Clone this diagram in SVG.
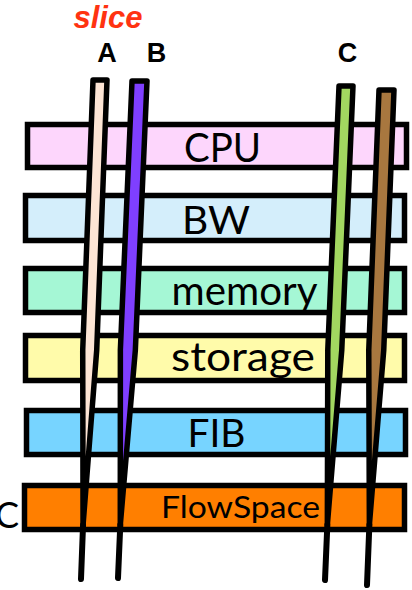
<svg xmlns="http://www.w3.org/2000/svg" width="412" height="590" viewBox="0 0 412 590">
  <style>
    .bar { stroke: #000; stroke-width: 5.5; }
    .res { font-family: Lato, "Open Sans", sans-serif; fill: #000; }
    .tag { font-family: "Liberation Sans", Arial, sans-serif; font-weight: bold; font-size: 27px; text-anchor: middle; fill: #000; }
    .wedge { stroke: #000; stroke-width: 5.5; stroke-linejoin: round; }
    .tail { stroke: #000; stroke-width: 6; stroke-linecap: round; fill: none; }
  </style>
  <rect width="412" height="590" fill="#fff"/>

  <!-- resource layers -->
  <g id="cpu">
    <rect class="bar" x="27.5" y="124.5" width="379" height="43" fill="#FDD6FC"/>
    <text class="res" x="184" y="162" font-size="41" textLength="77" lengthAdjust="spacingAndGlyphs">CPU</text>
  </g>
  <g id="bw">
    <rect class="bar" x="25.5" y="195.5" width="379" height="45" fill="#D4EEFB"/>
    <text class="res" x="182" y="234" font-size="39" textLength="68" lengthAdjust="spacingAndGlyphs">BW</text>
  </g>
  <g id="memory">
    <rect class="bar" x="25.5" y="268.5" width="379" height="44" fill="#A5F7D5"/>
    <text class="res" x="171.5" y="305" font-size="41" textLength="146" lengthAdjust="spacingAndGlyphs">memory</text>
  </g>
  <g id="storage">
    <rect class="bar" x="25.5" y="335.5" width="379" height="45" fill="#FFFBAA"/>
    <text class="res" x="171" y="371" font-size="40" textLength="144" lengthAdjust="spacingAndGlyphs">storage</text>
  </g>
  <g id="fib">
    <rect class="bar" x="26.5" y="410.5" width="379" height="44" fill="#77D4FF"/>
    <text class="res" x="187.5" y="447" font-size="39" textLength="58" lengthAdjust="spacingAndGlyphs">FIB</text>
  </g>
  <g id="flowspace">
    <rect class="bar" x="24.5" y="485.5" width="380" height="44" fill="#FF7F00"/>
    <text class="res" x="161" y="518" font-size="31" textLength="159" lengthAdjust="spacingAndGlyphs">FlowSpace</text>
  </g>
  <text class="res" x="-5" y="528" font-size="36">C</text>

  <!-- slices cutting through the layers -->
  <g id="slices">
    <g id="slice-a">
      <polygon class="wedge" fill="#FDE5D5" points="93,80 107,80 96.72,350 83.05,525 82.72,350"/>
      <line class="tail" x1="83.05" y1="525" x2="81" y2="579"/>
    </g>
    <g id="slice-b">
      <polygon class="wedge" fill="#7F3FFF" points="132,81 147,81 135.36,350 120.29,525 120.36,350"/>
      <line class="tail" x1="120.29" y1="525" x2="118" y2="578"/>
    </g>
    <g id="slice-c">
      <polygon class="wedge" fill="#A2D760" points="339,86 353,86 341.78,350 327.34,525 327.78,350"/>
      <line class="tail" x1="327.34" y1="525" x2="325" y2="580"/>
    </g>
    <g id="slice-d">
      <polygon class="wedge" fill="#A8773F" points="379,90 394,90 383.76,350 369.37,525 368.76,350"/>
      <line class="tail" x1="369.37" y1="525" x2="367" y2="585"/>
    </g>
  </g>

  <!-- labels -->
  <g id="labels">
    <text x="108" y="28" font-family="'Liberation Sans', Arial, sans-serif" font-weight="bold" font-style="italic" font-size="31" text-anchor="middle" fill="#FF3311">slice</text>
    <text class="tag" x="107" y="62">A</text>
    <text class="tag" x="156.5" y="62">B</text>
    <text class="tag" x="347.5" y="62">C</text>
  </g>
</svg>
